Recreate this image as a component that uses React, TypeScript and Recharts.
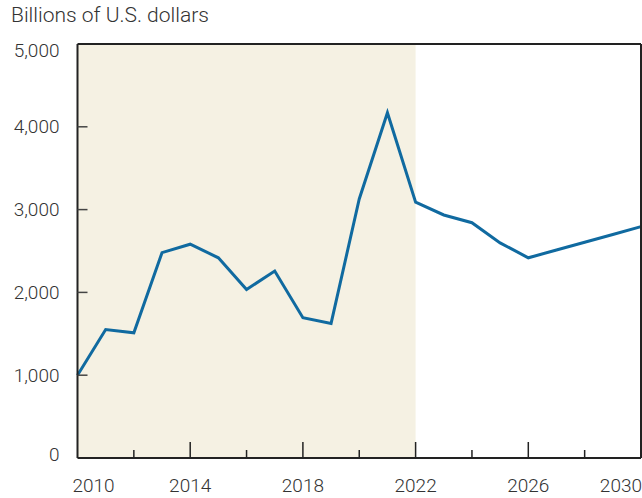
import React from 'react';
import { LineChart, Line, XAxis, YAxis, ReferenceArea, ReferenceLine } from 'recharts';

// -----------------------------------------------------------------------------
// Data
// -----------------------------------------------------------------------------

const years = [
  2010, 2011, 2012, 2013, 2014, 2015, 2016, 2017, 2018, 2019, 2020,
  2021, 2022, 2023, 2024, 2025, 2026, 2027, 2028, 2029, 2030,
];
const values = [
  1000, 1552, 1512, 2480, 2582, 2418, 2035, 2258, 1695, 1626, 3128,
  4170, 3090, 2935, 2842, 2598, 2418, 2512, 2606, 2700, 2794,
];
const xTicks = [2010, 2012, 2014, 2016, 2018, 2020, 2022, 2024, 2026, 2028, 2030];
const xLabels = [2010, 2014, 2018, 2022, 2026, 2030];
const yTicks = [0, 1000, 2000, 3000, 4000, 5000];
const historyEnd = 2022;

const data = years.map((year, i) => ({ year, value: values[i] }));

const FONT = 'Roboto, sans-serif';
const WEIGHT = 300;
const TEXT = '#333';
const AXIS = '#222';
const TICK = '#444';

// -----------------------------------------------------------------------------
// Ticks
// -----------------------------------------------------------------------------

const LeftTick = (props: any) => {
  const { x, y, payload } = props;
  const v = payload.value as number;
  const nudge = v === 5000 ? 6 : v === 0 ? -4 : 0;
  return (
    <g>
      {v !== 0 && v !== 5000 && <line x1={x} x2={x + 10} y1={y} y2={y} stroke={TICK} strokeWidth={1.5} />}
      <text
        x={x - 18}
        y={y + nudge}
        textAnchor="end"
        dominantBaseline="central"
        fontFamily={FONT}
        fontWeight={WEIGHT}
        fontSize={19}
        fill={TEXT}
      >
        {v.toLocaleString('en-US')}
      </text>
    </g>
  );
};

const RightTick = (props: any) => {
  const { x, y, payload } = props;
  const v = payload.value as number;
  if (v === 0 || v === 5000) return <g />;
  return <line x1={x - 10} x2={x} y1={y} y2={y} stroke={TICK} strokeWidth={1.5} />;
};

const BottomTick = (props: any) => {
  const { x, y, payload } = props;
  const v = payload.value as number;
  const labelled = xLabels.includes(v);
  const edge = v === 2010 || v === 2030;
  const anchor = v === 2010 ? 'start' : v === 2030 ? 'end' : 'middle';
  const tx = v === 2010 ? x - 5 : v === 2030 ? x + 1 : x;
  return (
    <g>
      {!edge && (
        <line x1={x} x2={x} y1={y} y2={y - (labelled ? 16 : 8)} stroke={AXIS} strokeWidth={1.5} />
      )}
      {labelled && (
        <text
          x={tx}
          y={y + 34}
          textAnchor={anchor}
          fontFamily={FONT}
          fontWeight={WEIGHT}
          fontSize={19}
          fill={TEXT}
        >
          {v}
        </text>
      )}
    </g>
  );
};

// -----------------------------------------------------------------------------
// Component
// -----------------------------------------------------------------------------

export default function App() {
  return (
    <div style={{ position: 'absolute', left: 0, top: 0, width: 642, height: 498, background: '#fff' }}>
      <div
        style={{
          position: 'absolute',
          left: 11,
          top: 3,
          fontFamily: FONT,
          fontWeight: WEIGHT,
          fontSize: 21,
          color: TEXT,
          whiteSpace: 'nowrap',
        }}
      >
        Billions of U.S. dollars
      </div>
      <LineChart width={642} height={498} data={data} margin={{ top: 44, right: 0, bottom: 0, left: 0 }}>
        <ReferenceArea
          yAxisId="left"
          x1={years[0]}
          x2={historyEnd}
          y1={0}
          y2={5000}
          fill="#f5f1e3"
          fillOpacity={1}
          stroke="none"
          ifOverflow="visible"
        />
        <XAxis
          dataKey="year"
          type="number"
          domain={[2010, 2030]}
          ticks={xTicks}
          interval={0}
          height={40}
          tickSize={0}
          tickMargin={0}
          tick={<BottomTick />}
          axisLine={{ stroke: AXIS, strokeWidth: 2 }}
          tickLine={false}
        />
        <YAxis
          yAxisId="left"
          orientation="left"
          type="number"
          domain={[0, 5000]}
          ticks={yTicks}
          interval={0}
          width={77.5}
          tickSize={0}
          tickMargin={0}
          tick={<LeftTick />}
          axisLine={{ stroke: AXIS, strokeWidth: 2 }}
          tickLine={false}
        />
        <YAxis
          yAxisId="right"
          orientation="right"
          type="number"
          domain={[0, 5000]}
          ticks={yTicks}
          interval={0}
          width={1}
          tickSize={0}
          tickMargin={0}
          tick={<RightTick />}
          axisLine={{ stroke: AXIS, strokeWidth: 2 }}
          tickLine={false}
        />
        <ReferenceLine yAxisId="left" y={5000} stroke={AXIS} strokeWidth={2} />
        <Line
          yAxisId="left"
          dataKey="value"
          stroke="#106aa0"
          strokeWidth={3}
          dot={false}
          activeDot={false}
          isAnimationActive={false}
        />
      </LineChart>
    </div>
  );
}
